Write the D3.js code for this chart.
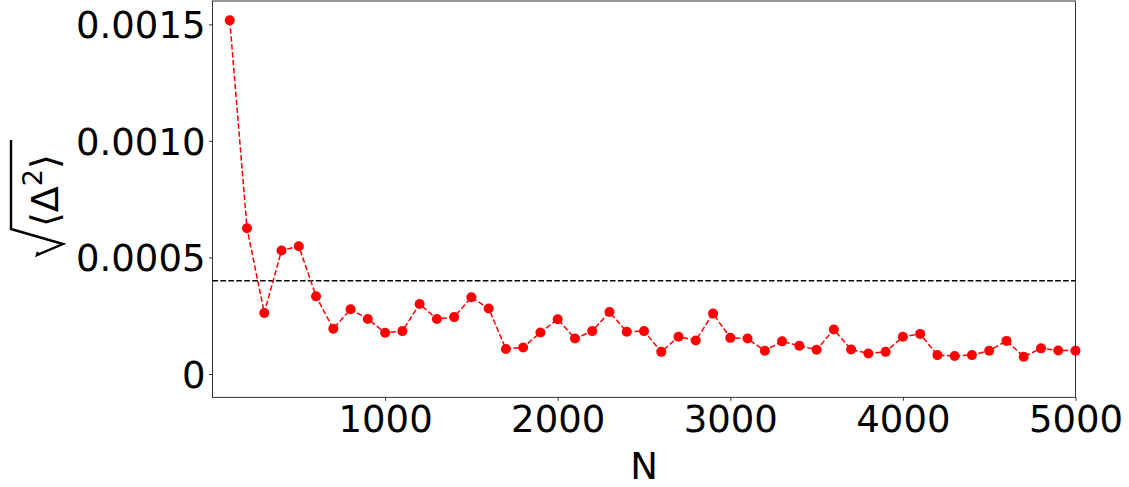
<!DOCTYPE html>
<html>
<head>
<meta charset="utf-8">
<script src="https://cdn.jsdelivr.net/npm/d3@7/dist/d3.min.js"></script>
<style>
  body { margin: 0; background: #fff; }
  svg text { font-family: "DejaVu Sans", sans-serif; fill: #000; }
</style>
</head>
<body>
<div id="chart"></div>
<script>
// sample sizes and rms deviation
const sizes = [100, 200, 300, 400, 500, 600, 700, 800, 900, 1000,
  1100, 1200, 1300, 1400, 1500, 1600, 1700, 1800, 1900, 2000,
  2100, 2200, 2300, 2400, 2500, 2600, 2700, 2800, 2900, 3000,
  3100, 3200, 3300, 3400, 3500, 3600, 3700, 3800, 3900, 4000,
  4100, 4200, 4300, 4400, 4500, 4600, 4700, 4800, 4900, 5000];
const rmsDelta = [0.001517, 0.000625, 0.000262, 0.000530, 0.000548, 0.000333, 0.000194, 0.000278, 0.000236, 0.000177,
  0.000184, 0.000300, 0.000236, 0.000244, 0.000329, 0.000281, 0.000107, 0.000114, 0.000178, 0.000235,
  0.000152, 0.000184, 0.000266, 0.000181, 0.000184, 0.000095, 0.000160, 0.000144, 0.000259, 0.000155,
  0.000152, 0.000100, 0.000140, 0.000121, 0.000104, 0.000191, 0.000105, 0.000088, 0.000095, 0.000160,
  0.000172, 0.000081, 0.000077, 0.000081, 0.000100, 0.000142, 0.000074, 0.000110, 0.000101, 0.000100];
const threshold = 0.0004;
const xTicks = [1000, 2000, 3000, 4000, 5000];
const yTicks = [0, 0.0005, 0.0010, 0.0015];
const yTickLabels = ["0", "0.0005", "0.0010", "0.0015"];

const W = 1129, H = 487;
const margin = {top: 1, right: 53.5, bottom: 89.7, left: 212.5};
const width = W - margin.left - margin.right;
const height = H - margin.top - margin.bottom;

const svg = d3.select("#chart").append("svg")
  .attr("width", W)
  .attr("height", H);

const g = svg.append("g")
  .attr("transform", `translate(${margin.left}, ${margin.top})`);

const x = d3.scaleLinear().domain([0, 5000]).range([0, width]);
const y = d3.scaleLinear().domain([-0.0001, 0.0016]).range([height, 0]);

// axes
const xAxis = d3.axisBottom(x)
  .tickValues(xTicks)
  .tickSize(3.5)
  .tickPadding(3.5)
  .tickFormat(d3.format("d"));
const yAxis = d3.axisLeft(y)
  .tickValues(yTicks)
  .tickSize(3.5)
  .tickPadding(3.5)
  .tickFormat((d, i) => yTickLabels[i]);

const gx = g.append("g")
  .attr("transform", `translate(0, ${height})`)
  .call(xAxis);
const gy = g.append("g").call(yAxis);

[gx, gy].forEach(a => {
  a.select(".domain").remove();
  a.selectAll(".tick line").attr("stroke", "#000").attr("stroke-width", 0.8);
  a.selectAll(".tick text").attr("font-size", 37).attr("fill", "#000");
});
gx.selectAll(".tick text").attr("dy", "0.76em");
gy.selectAll(".tick text").attr("dy", "0.36em");

// threshold line
g.append("line")
  .attr("x1", 0).attr("x2", width)
  .attr("y1", y(threshold)).attr("y2", y(threshold))
  .attr("stroke", "#000")
  .attr("stroke-width", 1.5)
  .attr("stroke-dasharray", "5.55,2.4");

// data line + markers
const pts = sizes.map((n, i) => ({n, v: rmsDelta[i]}));
g.append("path")
  .datum(pts)
  .attr("fill", "none")
  .attr("stroke", "#ff0000")
  .attr("stroke-width", 1.5)
  .attr("stroke-dasharray", "5.55,2.4")
  .attr("d", d3.line().x(d => x(d.n)).y(d => y(d.v)));

g.selectAll(".dot")
  .data(pts)
  .enter()
  .append("circle")
  .attr("class", "dot")
  .attr("cx", d => x(d.n))
  .attr("cy", d => y(d.v))
  .attr("r", 5)
  .attr("fill", "#ff0000");

// frame
g.append("rect")
  .attr("width", width)
  .attr("height", height)
  .attr("fill", "none")
  .attr("stroke", "#000")
  .attr("stroke-width", 0.8);

// x label
svg.append("text")
  .attr("x", margin.left + width / 2)
  .attr("y", 479)
  .attr("text-anchor", "middle")
  .attr("font-size", 37)
  .text("N");

// y label: sqrt(<Delta^2>)
const yl = svg.append("g")
  .attr("transform", "translate(58, 198) rotate(-90)");
const lab = yl.append("text")
  .attr("x", -29)
  .attr("y", 0)
  .attr("font-size", 38);
lab.append("tspan").text("⟨Δ");
lab.append("tspan").attr("font-size", 27).attr("dy", -16).text("2");
lab.append("tspan").attr("dy", 16).text("⟩");
// radical sign
yl.append("path")
  .attr("fill", "none")
  .attr("stroke", "#000")
  .attr("stroke-width", 2.4)
  .attr("stroke-linejoin", "miter")
  .attr("d", "M-54,-20 L-57,-21 L-46,5 L-31,-47 L58,-47");
</script>
</body>
</html>
